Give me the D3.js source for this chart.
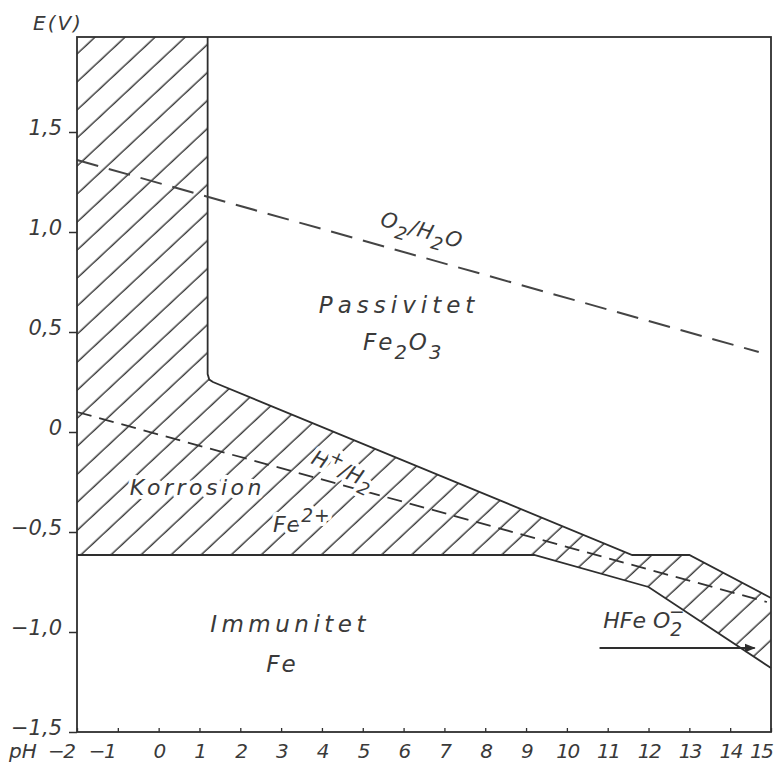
<!DOCTYPE html>
<html>
<head>
<meta charset="utf-8">
<script src="https://cdn.jsdelivr.net/npm/d3@7"></script>
<style>
  body { margin: 0; background: #fff; }
  svg text { font-family: "DejaVu Sans", sans-serif; font-style: italic; fill: #3a3a3a; }
</style>
</head>
<body>
<div id="chart"></div>
<script>
// axes
var phDomain = [-2, 15]
var eDomain = [-1.5, 1.975]
var phTicks = d3.range(-2, 16)
var eTicks = [-1.5, -1.0, -0.5, 0, 0.5, 1.0, 1.5]

// hatched corrosion region, upper and lower edge as (pH, E)
var corrosionTop = [[-2, 1.975], [1.2, 1.975], [1.2, 0.29], [1.24, 0.262], [1.33, 0.25], [11.6, -0.615], [13.0, -0.615], [15, -0.83]]
var corrosionBottom = [[15, -1.18], [12.0, -0.775], [9.2, -0.615], [-2, -0.615]]

// water lines
var o2Line = [[-2, 1.36], [14.7, 0.40]]
var h2Line = [[-2, 0.10], [14.9, -0.85]]
// HFeO2- arrow
var arrowLine = [[10.8, -1.08], [14.6, -1.08]]

var width = 775, height = 767
var svg = d3.select("#chart").append("svg")
    .attr("width", width)
    .attr("height", height)

var x = d3.scaleLinear().domain(phDomain).range([77, 771])
var y = d3.scaleLinear().domain(eDomain).range([732, 37])

var line = d3.line()
    .x(function(d) { return x(d[0]) })
    .y(function(d) { return y(d[1]) })

var ink = "#2e2e2e"

// hatch pattern
var defs = svg.append("defs")
defs.append("pattern")
    .attr("id", "hatch")
    .attr("patternUnits", "userSpaceOnUse")
    .attr("width", 40)
    .attr("height", 20.5)
    .attr("patternTransform", "rotate(-43)")
  .append("line")
    .attr("x1", 0).attr("x2", 40)
    .attr("y1", 10).attr("y2", 10)
    .attr("stroke", "#3a3a3a")
    .attr("stroke-width", 1.3)

defs.append("marker")
    .attr("id", "head")
    .attr("viewBox", "0 0 10 10")
    .attr("refX", 9).attr("refY", 5)
    .attr("markerWidth", 6).attr("markerHeight", 6)
    .attr("orient", "auto")
  .append("path")
    .attr("d", "M0,1L10,5L0,9Z")
    .attr("fill", ink)

// region fill
svg.append("path")
    .attr("d", line(corrosionTop.concat(corrosionBottom)) + "Z")
    .attr("fill", "url(#hatch)")

// region boundaries
svg.append("path")
    .attr("d", line(corrosionTop.slice(1)))
    .attr("fill", "none").attr("stroke", ink).attr("stroke-width", 1.8)
svg.append("path")
    .attr("d", line(corrosionBottom))
    .attr("fill", "none").attr("stroke", ink).attr("stroke-width", 1.8)

// dashed lines
svg.append("path")
    .attr("d", line(o2Line))
    .attr("fill", "none").attr("stroke", "#444").attr("stroke-width", 2)
    .attr("stroke-dasharray", "22,11")
svg.append("path")
    .attr("d", line(h2Line))
    .attr("fill", "none").attr("stroke", "#333").attr("stroke-width", 1.8)
    .attr("stroke-dasharray", "15,8")

// frame
svg.append("rect")
    .attr("x", x(phDomain[0])).attr("y", y(eDomain[1]))
    .attr("width", x(phDomain[1]) - x(phDomain[0]))
    .attr("height", y(eDomain[0]) - y(eDomain[1]))
    .attr("fill", "none").attr("stroke", ink).attr("stroke-width", 1.8)

// axes
var fmt = d3.formatLocale({decimal: ",", thousands: ".", grouping: [3], currency: ["", ""], minus: "\u2212"}).format(".1f")
var yAxis = svg.append("g")
    .attr("transform", "translate(" + x(phDomain[0]) + ",0)")
    .call(d3.axisLeft(y).tickValues(eTicks).tickSize(8).tickFormat(function(d) { return d === 0 ? "0" : fmt(d) }))
yAxis.attr("font-family", null).attr("font-size", null)
yAxis.select(".domain").remove()
yAxis.selectAll("line").attr("stroke", ink).attr("stroke-width", 1.5)
yAxis.selectAll("text")
    .attr("x", -15).attr("dy", 0).attr("y", 2)
    .attr("font-size", 21)

var xAxis = svg.append("g")
    .attr("transform", "translate(0," + y(eDomain[0]) + ")")
    .call(d3.axisBottom(x).tickValues(phTicks).tickSize(-4).tickFormat(function(d) { return d < 0 ? "\u2212" + (-d) : d }))
xAxis.attr("font-family", null).attr("font-size", null)
xAxis.select(".domain").remove()
xAxis.selectAll("line").attr("stroke", ink).attr("stroke-width", 1.3)
xAxis.selectAll("text")
    .attr("y", 26).attr("dy", 0)
    .attr("font-size", 20)
    .attr("letter-spacing", -1.5)
    .attr("text-anchor", function(d) { return d < 0 || d === phDomain[1] ? "end" : "middle" })
    .attr("x", function(d) { return d < 0 ? -3 : d === phDomain[1] ? 1 : 0 })

// text helper with sub/superscripts
function label(px, py, parts, opt) {
  var t = svg.append("text")
      .attr("x", px).attr("y", py)
      .attr("font-size", opt.size)
      .attr("letter-spacing", opt.ls || 0)
      .attr("text-anchor", opt.anchor || "middle")
  if (opt.rotate) t.attr("transform", "rotate(" + opt.rotate + "," + px + "," + py + ")")
  if (opt.halo) t.attr("stroke", "#fff").attr("stroke-width", 8).attr("stroke-linejoin", "round").attr("paint-order", "stroke")
  var shift = 0
  parts.forEach(function(p) {
    var s = t.append("tspan").text(p[0])
    var target = p[1] === "sub" ? 0.38 : p[1] === "sup" ? -0.45 : 0
    if (target !== shift) { s.attr("dy", (target - shift) * opt.size); shift = target }
    if (p[1]) s.attr("font-size", opt.size * 0.85)
    if (p[2]) s.attr("dx", p[2] * opt.size)
  })
}

label(33, 30, [["E(V)"]], {size: 20, ls: 2, anchor: "start"})
label(9, 758, [["pH"]], {size: 20, ls: 0, anchor: "start"})

label(x(6.4), y(0.975), [["O"], ["2", "sub"], ["/H"], ["2", "sub"], ["O"]], {size: 21, ls: 1, rotate: 16})
label(x(5.89), y(0.595), [["Passivitet"]], {size: 23, ls: 5})
label(x(5.99), y(0.41), [["Fe"], ["2", "sub"], ["O"], ["3", "sub"]], {size: 23, ls: 2})
label(x(0.95), y(-0.315), [["Korrosion"]], {size: 22, ls: 3.5, halo: true})
label(x(3.71), y(-0.155), [["H"], ["+", "sup"], ["/H"], ["2", "sub"]], {size: 21, ls: 0, anchor: "start", rotate: 24, halo: true})
label(x(2.8), y(-0.5), [["Fe"], ["2+", "sup"]], {size: 22, ls: 1, anchor: "start", halo: true})
label(x(3.22), y(-1.0), [["Immunitet"]], {size: 23, ls: 4.5})
label(x(3.02), y(-1.2), [["Fe"]], {size: 23, ls: 2})
label(x(10.89), y(-0.98), [["HFe O"], ["2", "sub"], ["\u2212", "sup", -0.6]], {size: 22, ls: 0, anchor: "start"})

svg.append("path")
    .attr("d", line(arrowLine))
    .attr("fill", "none").attr("stroke", ink).attr("stroke-width", 1.8)
    .attr("marker-end", "url(#head)")
</script>
</body>
</html>
